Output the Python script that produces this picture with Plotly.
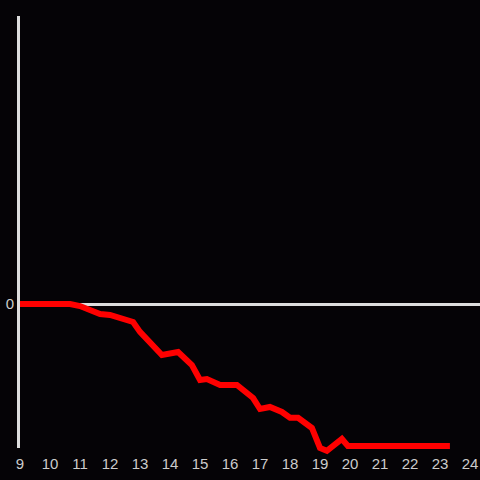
import plotly.graph_objects as go

hours = [9.0, 10.67, 11.0, 11.33, 11.67, 12.0, 12.33, 12.77, 13.0, 13.73, 14.27, 14.73,
         15.0, 15.23, 15.67, 16.23, 16.77, 17.0, 17.33, 17.73, 18.0, 18.27, 18.73,
         19.0, 19.23, 19.73, 19.93, 23.33]
values = [0, 0, -0.014, -0.042, -0.069, -0.076, -0.097, -0.125, -0.194, -0.354, -0.333, -0.424,
          -0.528, -0.521, -0.5625, -0.5625, -0.653, -0.729, -0.715, -0.75, -0.79, -0.79, -0.861,
          -1.0, -1.02, -0.9375, -0.986, -0.986]
x_ticks = list(range(9, 25))

X_RANGE = [9, 24.333]
Y_RANGE = [-1, 2]
# plot area in pixels: top 16, axis bottom 448, line layer allowed to 464
H = 480 - 16 - 16
axis_bottom_frac = (464 - 448) / H
ext = (464 - 448) / (448 - 16) * (Y_RANGE[1] - Y_RANGE[0])

fig = go.Figure()
fig.add_trace(go.Scatter(x=[], y=[], xaxis="x", yaxis="y", showlegend=False))
fig.add_trace(go.Scatter(x=hours, y=values, mode="lines", xaxis="x2", yaxis="y2",
                         line=dict(color="#ff0000", width=6), showlegend=False,
                         hoverinfo="skip"))
fig.update_layout(
    width=480, height=480,
    margin=dict(l=20, r=0, t=16, b=16),
    paper_bgcolor="#050306", plot_bgcolor="rgba(0,0,0,0)",
    showlegend=False,
    font=dict(color="#cccccc", size=15, family="Liberation Sans, Arial, sans-serif"),
    xaxis=dict(range=X_RANGE, tickvals=x_ticks, showgrid=False, zeroline=False,
               showline=False, ticks="outside", ticklen=2, tickcolor="rgba(0,0,0,0)",
               anchor="y", fixedrange=True),
    yaxis=dict(range=Y_RANGE, domain=[axis_bottom_frac, 1], tickvals=[0], showgrid=False,
               zeroline=True, zerolinecolor="#dddddd", zerolinewidth=3, showline=True,
               linecolor="#dddddd", linewidth=3, ticks="", anchor="x", fixedrange=True),
    xaxis2=dict(range=X_RANGE, visible=False, anchor="y2", overlaying="x", fixedrange=True),
    yaxis2=dict(range=[Y_RANGE[0] - ext, Y_RANGE[1]], domain=[0, 1], visible=False,
                anchor="x2", fixedrange=True),
)
fig.write_html("out.html", config={"displayModeBar": False},
               post_script="document.body.style.margin='0';document.body.style.background='#050306';document.body.style.overflow='hidden';")
